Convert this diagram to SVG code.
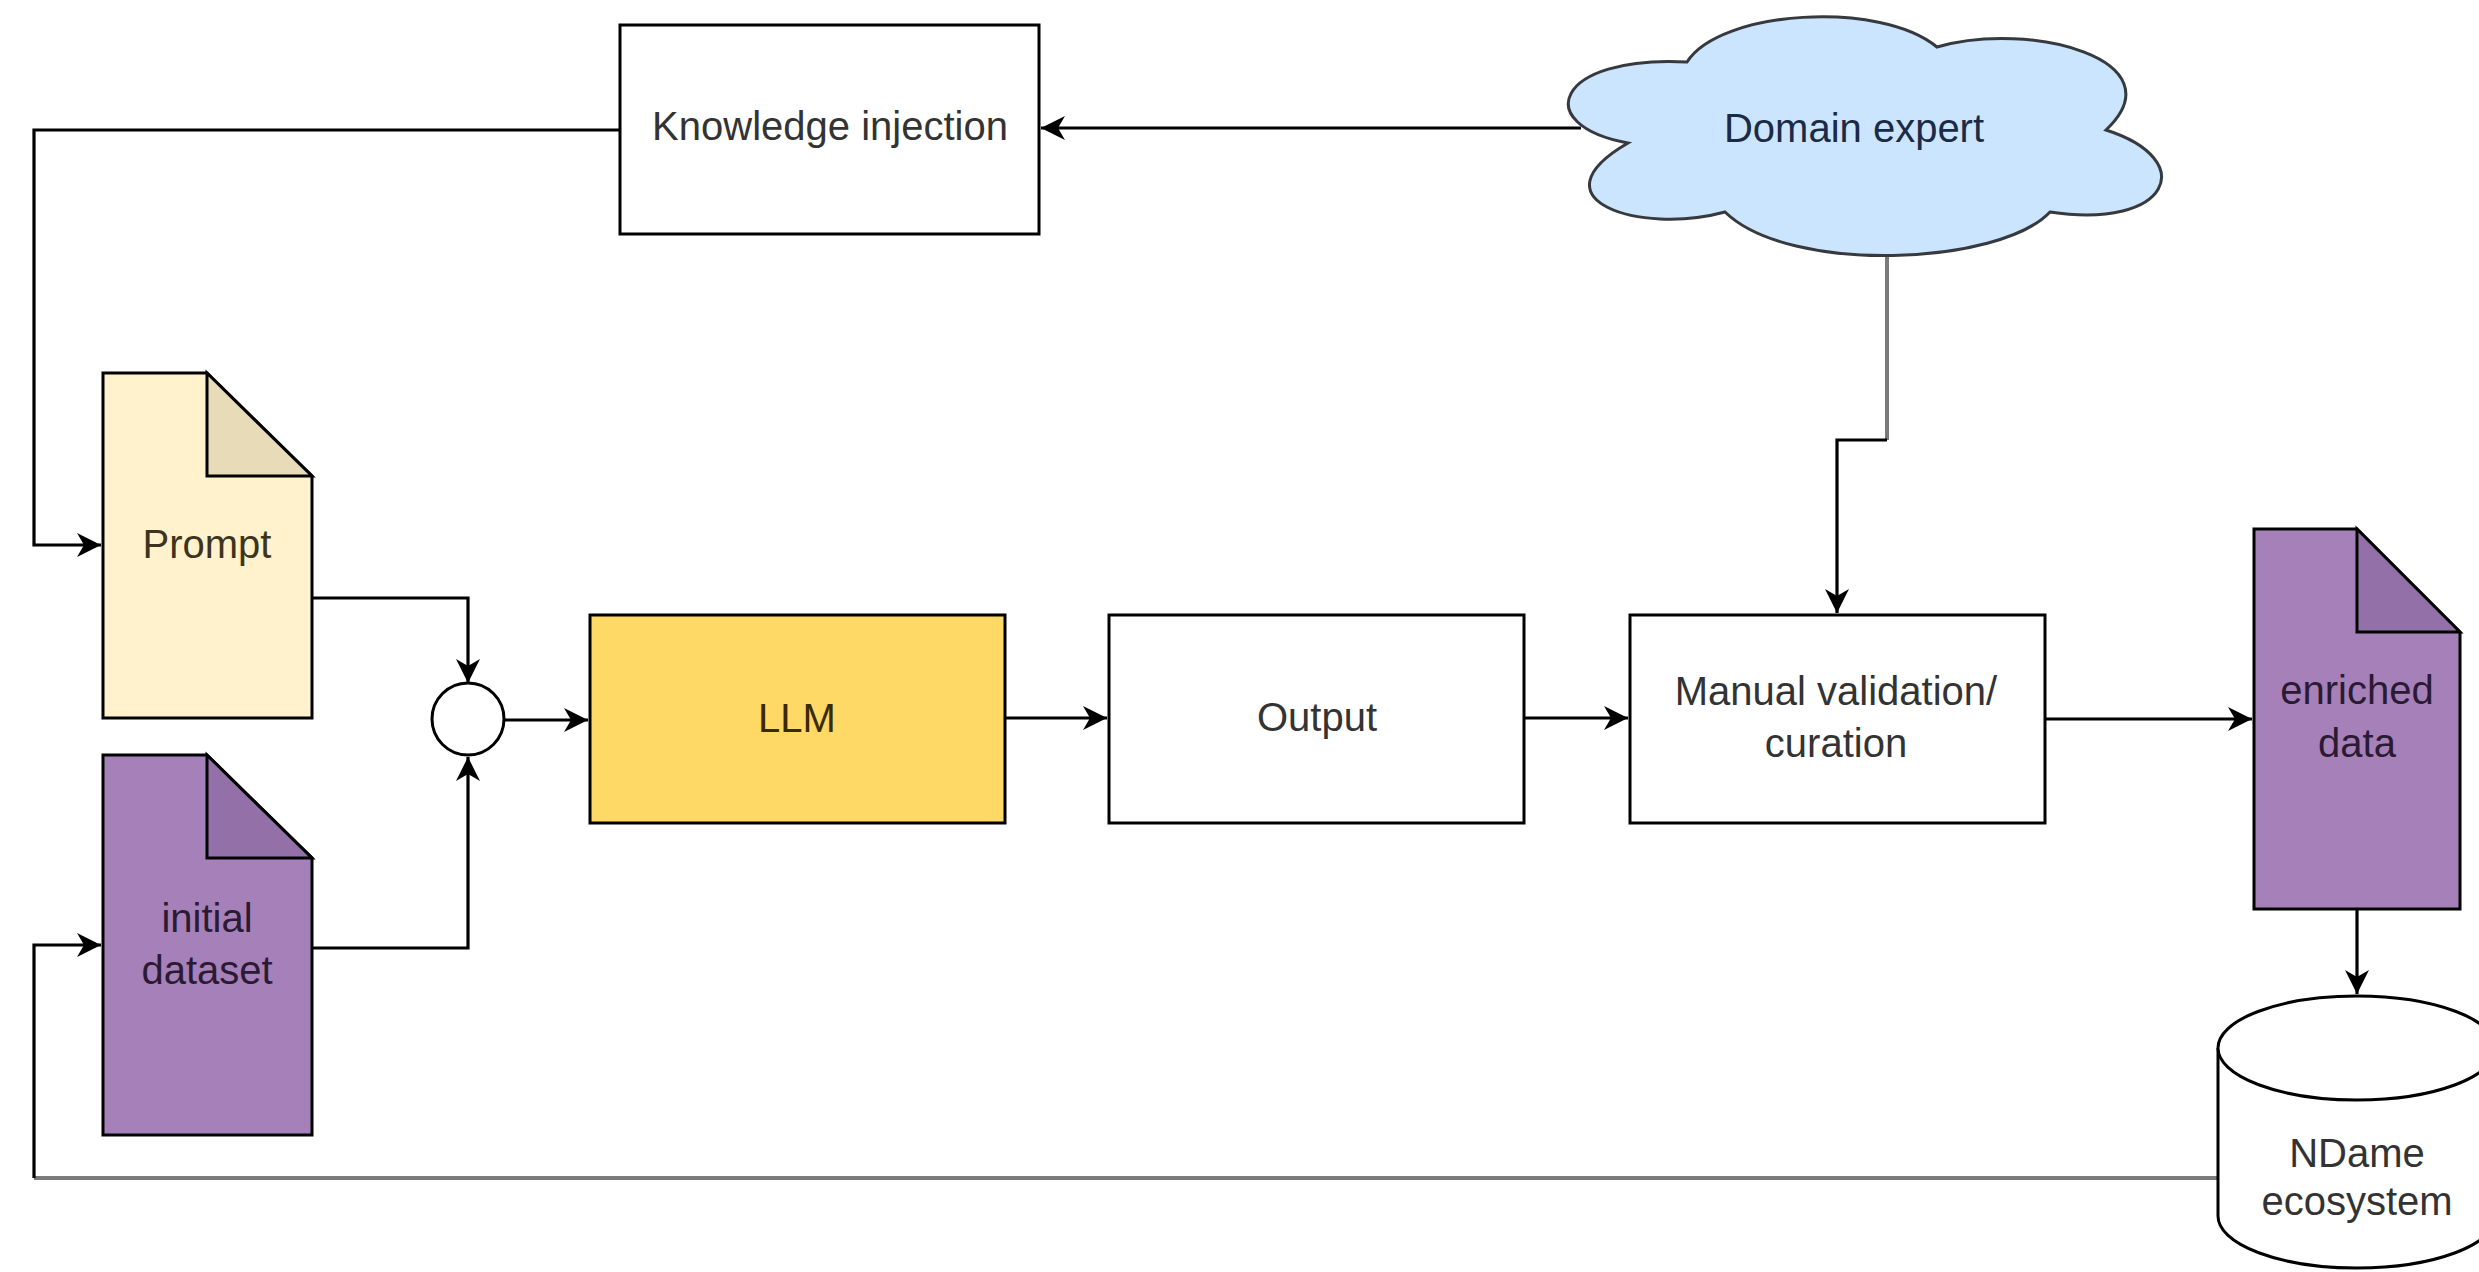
<svg xmlns="http://www.w3.org/2000/svg" width="2479" height="1272" viewBox="0 0 2479 1272">
<style>
.box{fill:#ffffff;stroke:#000;stroke-width:3}
.t{font-family:"Liberation Sans",Arial,sans-serif;font-size:40px;text-anchor:middle;fill:#333}
.ln{fill:none;stroke:#000;stroke-width:3.2}
.gr{fill:none;stroke:#7a7a7a;stroke-width:4}
.doc{stroke:#000;stroke-width:3;stroke-linejoin:miter}
</style>
<defs>
<marker id="ah" markerUnits="userSpaceOnUse" markerWidth="26" markerHeight="26" refX="24" refY="12" orient="auto">
<path d="M0,0 L24,12 L0,24 L7,12 Z" fill="#000"/>
</marker>
</defs>
<rect width="2479" height="1272" fill="#fff"/>

<g id="connectors">
<path class="ln" d="M620,130 H34 V545 H101" marker-end="url(#ah)"/>
<path class="ln" d="M312,598 H468 V683" marker-end="url(#ah)"/>
<path class="ln" d="M312,948 H468 V757" marker-end="url(#ah)"/>
<path class="ln" d="M504,720 H588" marker-end="url(#ah)"/>
<path class="ln" d="M1005,718 H1107" marker-end="url(#ah)"/>
<path class="ln" d="M1524,718 H1628" marker-end="url(#ah)"/>
<path class="ln" d="M2045,719 H2252" marker-end="url(#ah)"/>
<path class="ln" d="M2357,910 V994" marker-end="url(#ah)"/>
<path class="ln" d="M1581,128 H1041" marker-end="url(#ah)"/>
<path class="gr" d="M1887,255 V440"/>
<path class="ln" d="M1887,440 H1837 V613" marker-end="url(#ah)"/>
<path class="gr" d="M2218,1178 H34" stroke-width="5"/>
<path class="ln" d="M34,1178 V945 H101" marker-end="url(#ah)"/>
</g>

<g id="knowledge-injection">
<rect class="box" x="620" y="25" width="419" height="209"/>
<text class="t" x="830" y="140">Knowledge injection</text>
</g>

<g id="domain-expert">
<path d="M1628,143 C1530,125 1555,55 1687,62 C1720,10 1880,0 1937,47 C2030,20 2180,60 2106,130 C2200,160 2170,230 2050,212 C2000,265 1790,275 1725,212 C1640,235 1530,200 1628,143 Z" fill="#cce5ff" stroke="#36393d" stroke-width="3"/>
<text class="t" x="1854" y="142" style="fill:#1b2a45">Domain expert</text>
</g>

<g id="prompt">
<path class="doc" d="M103,373 H207 L312,476 V718 H103 Z" fill="#fff2cc"/>
<path class="doc" d="M207,373 V476 H312 Z" fill="#e8dcb8"/>
<text class="t" x="207" y="558" style="fill:#3d3420">Prompt</text>
</g>

<g id="initial-dataset">
<path class="doc" d="M103,755 H207 L312,858 V1135 H103 Z" fill="#a680b8"/>
<path class="doc" d="M207,755 V858 H312 Z" fill="#9470a8"/>
<text class="t" x="207" y="932" style="fill:#2b1a33">initial</text>
<text class="t" x="207" y="984" style="fill:#2b1a33">dataset</text>
</g>

<g id="join">
<circle cx="468" cy="719" r="36" fill="#fff" stroke="#000" stroke-width="3"/>
</g>

<g id="llm">
<rect x="590" y="615" width="415" height="208" fill="#ffd966" stroke="#000" stroke-width="3"/>
<text class="t" x="797" y="732" style="fill:#3a2a00">LLM</text>
</g>

<g id="output">
<rect class="box" x="1109" y="615" width="415" height="208"/>
<text class="t" x="1317" y="731">Output</text>
</g>

<g id="manual-validation">
<rect class="box" x="1630" y="615" width="415" height="208"/>
<text class="t" x="1836" y="705">Manual validation/</text>
<text class="t" x="1836" y="757">curation</text>
</g>

<g id="enriched-data">
<path class="doc" d="M2254,529 H2357 L2460,632 V909 H2254 Z" fill="#a680b8"/>
<path class="doc" d="M2357,529 V632 H2460 Z" fill="#9470a8"/>
<text class="t" x="2357" y="704" style="fill:#2b1a33">enriched</text>
<text class="t" x="2357" y="757" style="fill:#2b1a33">data</text>
</g>

<g id="ndame">
<path d="M2218,1048 V1216 A139,52 0 0 0 2496,1216 V1048" fill="#fff" stroke="#000" stroke-width="3"/>
<ellipse cx="2357" cy="1048" rx="139" ry="52" fill="#fff" stroke="#000" stroke-width="3"/>
<text class="t" x="2357" y="1167">NDame</text>
<text class="t" x="2357" y="1215">ecosystem</text>
</g>
</svg>
